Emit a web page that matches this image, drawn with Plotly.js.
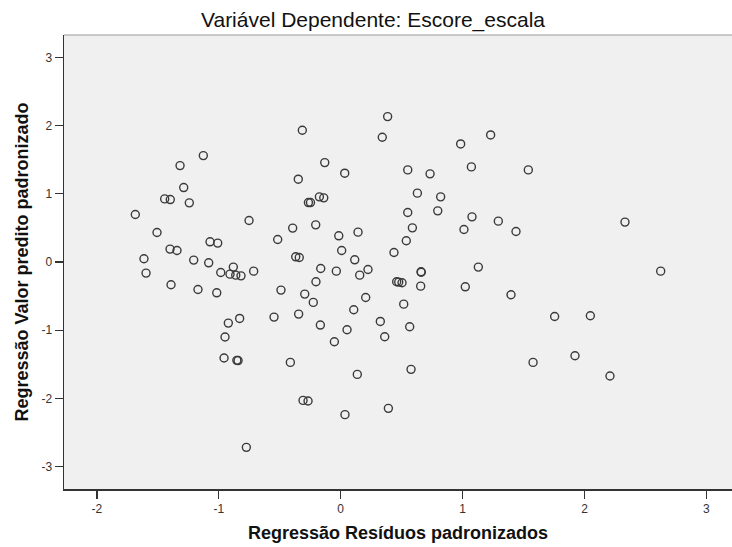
<!DOCTYPE html>
<html>
<head>
<meta charset="utf-8">
<script src="https://cdn.plot.ly/plotly-3.0.1.min.js"></script>
<style>html,body{margin:0;padding:0;background:#fff;}#chart{width:732px;height:547px;}</style>
</head>
<body>
<div id="chart"></div>
<script>
var residuos = [
 -0.315,-1.127,-1.318,-0.131,0.033,-1.288,-0.348,-1.444,-1.398,-1.242,
 -0.265,-0.248,-0.175,-0.139,-1.685,-0.752,-0.205,-1.507,-0.394,-0.016,
 -0.517,-1.072,-1.009,-1.400,-1.343,0.008,-0.369,-0.340,-1.614,-1.206,
 -1.083,-1.597,-0.881,-0.984,-0.908,-0.861,-0.818,-0.714,-1.392,-1.171,
 -1.017,-0.490,-0.164,-0.036,-0.203,-0.295,-0.225,-0.922,-0.829,-0.547,
 -0.345,-0.167,0.052,-0.052,-0.949,-0.957,-0.852,-0.842,-0.413,-0.309,
 -0.268,0.035,-0.774,
 0.385,0.341,1.230,0.984,0.550,0.733,1.072,1.539,0.629,0.820,
 0.550,0.796,1.077,1.293,0.588,1.011,1.438,0.142,0.538,0.115,0.437,
 0.224,0.156,0.659,0.661,1.129,0.459,0.476,0.503,0.656,1.022,
 1.397,0.205,0.517,0.107,0.325,0.566,0.361,1.755,0.136,0.577,
 1.578,0.391,
 2.625,2.048,1.922,2.209,2.332
];
var preditos = [
 1.933,1.561,1.414,1.458,1.303,1.092,1.215,0.926,0.916,0.868,
 0.872,0.872,0.956,0.941,0.696,0.608,0.545,0.432,0.497,0.384,
 0.330,0.296,0.277,0.189,0.169,0.169,0.076,0.066,0.047,0.028,
 -0.012,-0.163,-0.075,-0.154,-0.178,-0.193,-0.203,-0.134,-0.334,-0.403,
 -0.452,-0.412,-0.095,-0.134,-0.290,-0.471,-0.593,-0.896,-0.828,-0.808,
 -0.764,-0.925,-0.994,-1.170,-1.101,-1.409,-1.443,-1.446,-1.473,-2.030,
 -2.039,-2.239,-2.719,
 2.133,1.830,1.864,1.732,1.351,1.293,1.395,1.351,1.010,0.956,
 0.726,0.750,0.662,0.599,0.501,0.477,0.447,0.438,0.311,0.032,0.139,
 -0.110,-0.193,-0.144,-0.150,-0.075,-0.290,-0.295,-0.305,-0.354,-0.364,
 -0.481,-0.520,-0.618,-0.700,-0.872,-0.950,-1.096,-0.799,-1.649,-1.575,
 -1.473,-2.147,
 -0.134,-0.789,-1.375,-1.672,0.585
];
var xTicks = [-2,-1,0,1,2,3];
var yTicks = [-3,-2,-1,0,1,2,3];
var tituloGrafico = "Variável Dependente: Escore_escala";
var tituloX = "Regressão Resíduos padronizados";
var tituloY = "Regressão Valor predito padronizado";

var font = "Liberation Sans, Arial, sans-serif";
var trace = {
  x: residuos, y: preditos, type: 'scatter', mode: 'markers',
  marker: {symbol: 'circle-open', size: 8, color: '#3a3a3a', line: {width: 1.4, color: '#3a3a3a'}},
  hoverinfo: 'x+y', showlegend: false
};
var layout = {
  width: 732, height: 547,
  paper_bgcolor: '#ffffff', plot_bgcolor: '#f0f0f0',
  margin: {l: 64, r: 0, t: 35, b: 58},
  font: {family: font, color: '#222'},
  title: {text: tituloGrafico, font: {family: font, size: 21, color: '#111'},
          x: 373/732, xref: 'container', xanchor: 'center', y: 1 - 19.5/547, yref: 'container', yanchor: 'middle'},
  xaxis: {
    range: [-2.27, 3.21], tickvals: xTicks, ticktext: xTicks.map(String),
    ticks: 'outside', ticklen: 8, tickwidth: 1.2, tickcolor: '#333',
    showline: true, linecolor: '#333', linewidth: 1.5, showgrid: false, zeroline: false,
    tickfont: {family: font, size: 12, color: '#333'},
    title: {text: '<b>' + tituloX + '</b>', font: {family: font, size: 18, color: '#111'}, standoff: 11},
    automargin: false, fixedrange: true
  },
  yaxis: {
    range: [-3.33, 3.33], tickvals: yTicks, ticktext: yTicks.map(String),
    ticks: 'outside', ticklen: 8, tickwidth: 1.2, tickcolor: '#333',
    showline: true, linecolor: '#333', linewidth: 1.5, showgrid: false, zeroline: false,
    tickfont: {family: font, size: 12, color: '#333'},
    title: {text: '<b>' + tituloY + '</b>', font: {family: font, size: 18, color: '#111'}, standoff: 8},
    automargin: false, fixedrange: true
  },
  shapes: [{type: 'line', xref: 'paper', yref: 'paper', x0: 0, x1: 1, y0: 1, y1: 1,
            line: {color: '#9a9a9a', width: 1}}]
};
Plotly.newPlot('chart', [trace], layout, {displayModeBar: false, staticPlot: true});
</script>
</body>
</html>
